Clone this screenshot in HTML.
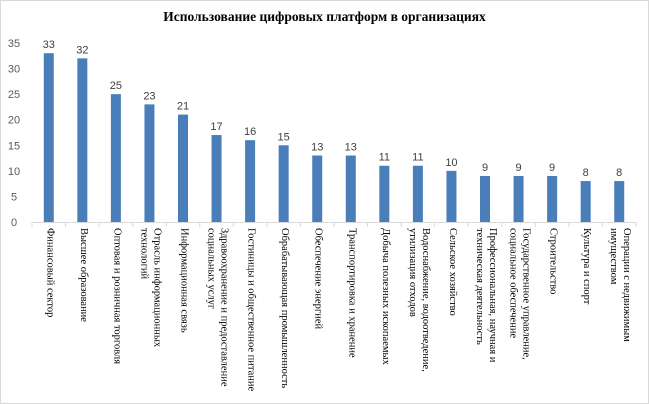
<!DOCTYPE html>
<html><head><meta charset="utf-8"><style>
body{margin:0;background:#fff}
#wrap{position:relative;width:649px;height:404px;overflow:hidden;background:#fff}
#frame{position:absolute;left:0;top:0;width:647px;height:402px;border:1px solid #d9d9d9}
#title{position:absolute;left:0;width:649px;top:9px;text-align:center;font:bold 13.5px "Liberation Serif",serif;color:#000}
.lab{position:absolute;top:228px;writing-mode:vertical-rl;font:10.5px "Liberation Serif",serif;color:#000;line-height:13px;white-space:nowrap}
</style></head><body>
<div id="wrap">
<div id="frame"></div>
<div id="title">Использование цифровых платформ в организациях</div>
<svg id="svg" width="649" height="404" style="position:absolute;left:0;top:0"></svg>
<div id="labels"></div>
</div>
<script>
const categories=["Финансовый сектор","Высшее образование","Оптовая и розничная торговля","Отрасль информационных<br>технологий","Информационная связь","Здравоохранение и предоставление<br>социальных услуг","Гостиницы и общественное питание","Обрабатывающая промышленность","Обеспечение энергией","Транспортировка и хранение","Добыча полезных ископаемых","Водоснабжение, водоотведение,<br>утилизация отходов","Сельское хозяйство","Профессиональная, научная и<br>техническая деятельность","Государственное управление,<br>социальное обеспечение","Строительство","Культура и спорт","Операции с недвижимым<br>имуществом"];
const values=[33,32,25,23,21,17,16,15,13,13,11,11,10,9,9,9,8,8];
const yTicks=[0,5,10,15,20,25,30,35];
const NS="http://www.w3.org/2000/svg";
const svg=document.getElementById('svg');
const x0=32,x1=636,y0=222,yTop=43,yMax=35;
const pitch=(x1-x0)/categories.length;
const yS=v=>y0-(v/yMax)*(y0-yTop);
const xC=i=>x0+pitch*(i+0.5);
function mk(t,a){const e=document.createElementNS(NS,t);for(const k in a)e.setAttribute(k,a[k]);svg.appendChild(e);return e;}
yTicks.forEach(t=>{
 const tx=mk('text',{x:14,y:yS(t)+4,'text-anchor':'middle','font-family':'Liberation Sans, sans-serif','font-size':'11','fill':'#595959'});
 
 
 tx.textContent=t;
});
const ax=mk('line',{x1:x0,x2:x1,y1:y0+0.5,y2:y0+0.5,stroke:'#d9d9d9'});


for(let i=0;i<=categories.length;i++){
 const tk=mk('line',{x1:x0+pitch*i,x2:x0+pitch*i,y1:y0,y2:y0+5,stroke:'#d9d9d9'});
 
 
}
const labs=document.getElementById('labels');
values.forEach((v,i)=>{
 const b=mk('rect',{x:xC(i)-5,y:yS(v),width:10,height:y0-yS(v),fill:'#4a7ebb'});
 
 
 const t=mk('text',{x:xC(i),y:yS(v)-5,'text-anchor':'middle','font-family':'Liberation Sans, sans-serif','font-size':'11','fill':'#404040'});
 
 
 t.textContent=v;
 const d=document.createElement('div');
 d.className='lab';
 
 
 d.innerHTML=categories[i];
 labs.appendChild(d);
 const lines=categories[i].split('<br>').length;
 d.style.left=(xC(i)-6.5*lines+1)+'px';
});
</script>
</body></html>
